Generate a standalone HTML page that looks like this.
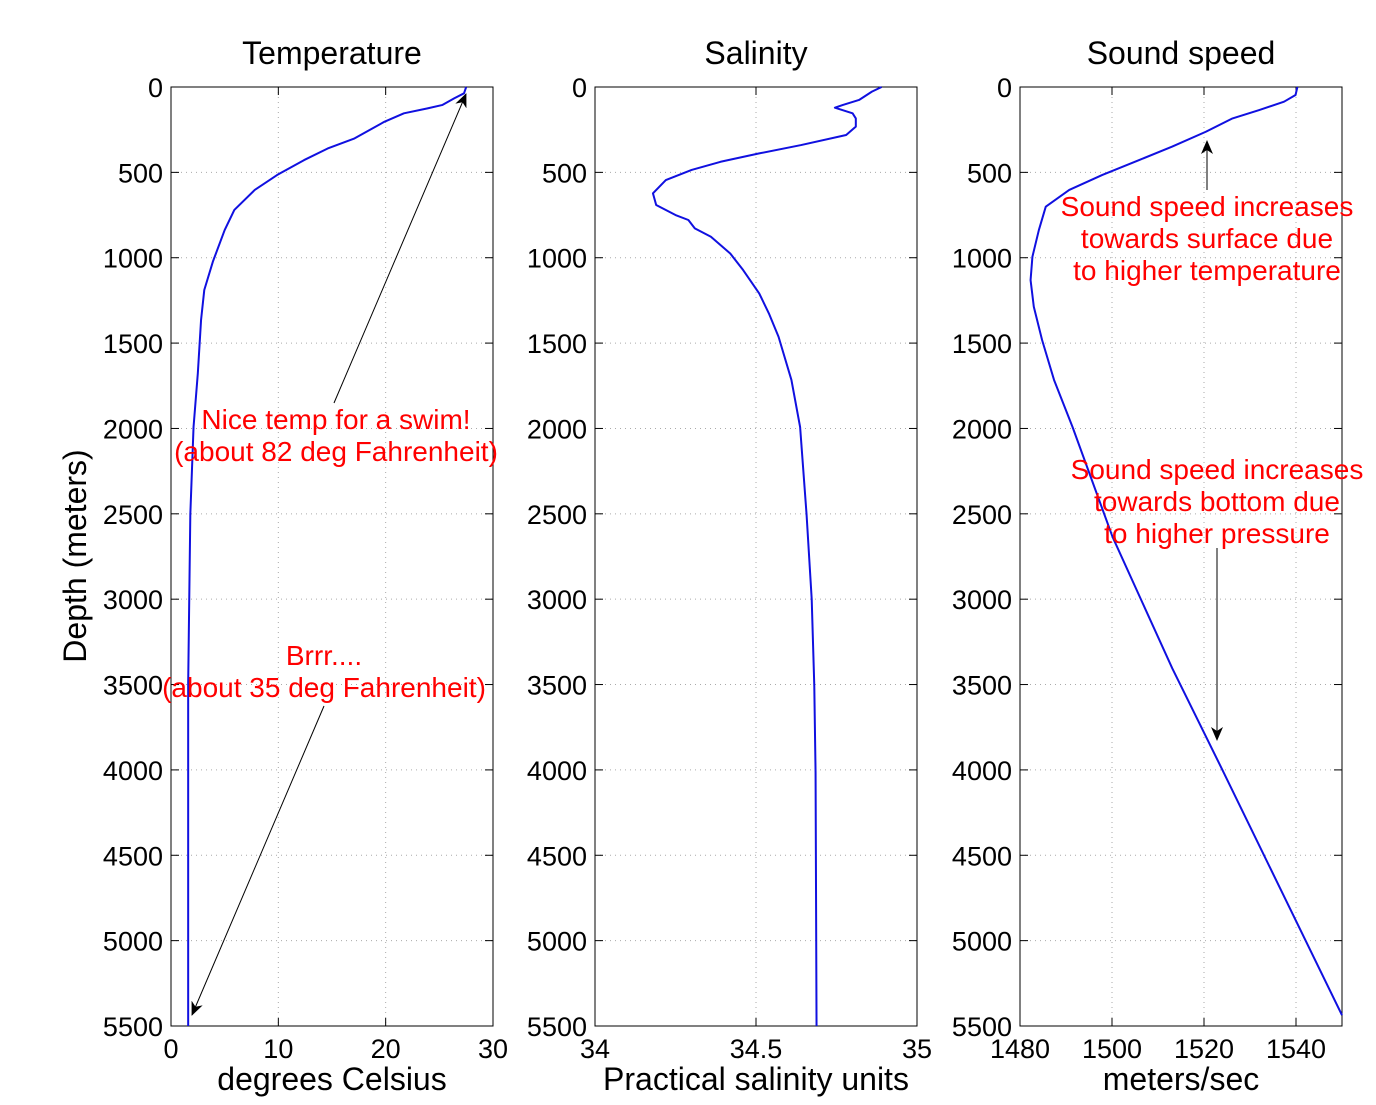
<!DOCTYPE html>
<html><head><meta charset="utf-8"><style>
body{margin:0;background:#fff;}
svg{font-family:"Liberation Sans",sans-serif;}
</style></head><body>
<svg id="chart" width="1376" height="1100">
<defs><marker id="ah" markerWidth="14" markerHeight="12" refX="13" refY="6" orient="auto" markerUnits="userSpaceOnUse"><path d="M0,0 L14,6 L0,12 L4,6 z" fill="#000"/></marker></defs>
<g id="root"></g>
<text x="86" y="556" font-size="32" text-anchor="middle" transform="rotate(-90 86 556)">Depth (meters)</text>
</svg>
<script>
const depthTicks=[0,500,1000,1500,2000,2500,3000,3500,4000,4500,5000,5500];
const tempDepth=[0,37,66,105,125,154,203,301,360,428,515,603,720,838,1023,1189,1365,1676,1992,2503,3495,4510,5500];
const tempVals=[27.5,27.3,26.4,25.3,23.9,21.7,19.9,17.1,14.6,12.4,9.9,7.8,5.9,5.0,3.9,3.1,2.8,2.5,2.1,1.8,1.6,1.6,1.6];
const salDepth=[0,27,76,105,121,154,184,232,281,340,389,438,486,545,623,691,750,779,828,877,975,1072,1209,1326,1463,1716,1992,2503,3000,3507,4015,5500];
const salVals=[34.89,34.86,34.82,34.77,34.745,34.80,34.81,34.81,34.78,34.64,34.51,34.39,34.30,34.22,34.18,34.19,34.25,34.29,34.31,34.36,34.42,34.46,34.51,34.54,34.57,34.61,34.637,34.657,34.673,34.681,34.685,34.688];
const sndDepth=[0,47,86,135,184,262,349,428,515,603,701,838,994,1131,1287,1482,1716,1990,2634,3405,4000,5437];
const sndVals=[1540.3,1539.9,1537.4,1532,1526.2,1520.4,1513.1,1505.9,1497.9,1490.7,1485.6,1484.1,1482.7,1482.3,1483.0,1484.8,1487.4,1491.4,1500.1,1513.1,1524,1550];
const tempTicks=[0,10,20,30], salTicks=[34,34.5,35], sndTicks=[1480,1500,1520,1540];
const NS="http://www.w3.org/2000/svg";
const root=document.getElementById('root');
const yTop=87,yBot=1026;
function yS(d){return yTop+(d/5500)*(yBot-yTop);}
function mk(tag,at,txt){const e=document.createElementNS(NS,tag);for(const k in at)e.setAttribute(k,at[k]);if(txt!==undefined)e.textContent=txt;root.appendChild(e);return e;}
function panel(x0,x1,xmin,xmax,xticks,title,xlabel,dep,vals,name){
 const xS=v=>x0+(v-xmin)/(xmax-xmin)*(x1-x0);
 xticks.forEach(t=>{const x=xS(t);
  let l=mk('line',{x1:x,x2:x,y1:yTop,y2:yBot,stroke:'#aaa','stroke-dasharray':'1,4','stroke-width':1});
  
  
  mk('line',{x1:x,x2:x,y1:yBot,y2:yBot-8,stroke:'#000'});mk('line',{x1:x,x2:x,y1:yTop,y2:yTop+8,stroke:'#000'});
  let tx=mk('text',{x:x,y:1058,'font-size':27,'text-anchor':'middle'},String(t));
  
  
 });
 depthTicks.forEach(d=>{const y=yS(d);
  let l=mk('line',{x1:x0,x2:x1,y1:y,y2:y,stroke:'#aaa','stroke-dasharray':'1,4','stroke-width':1});
  
  
  mk('line',{x1:x0,x2:x0+8,y1:y,y2:y,stroke:'#000'});mk('line',{x1:x1,x2:x1-8,y1:y,y2:y,stroke:'#000'});
  let tx=mk('text',{x:x0-8,y:y+10,'font-size':27,'text-anchor':'end'},String(d));
  
  
 });
 let b=mk('rect',{x:x0,y:yTop,width:x1-x0,height:yBot-yTop,fill:'none',stroke:'#000','stroke-width':1});
 
 
 let p=mk('polyline',{points:dep.map((d,i)=>xS(vals[i])+','+yS(d)).join(' '),fill:'none',stroke:'#1010e0','stroke-width':2,'stroke-linejoin':'round'});
 
 
 let t=mk('text',{x:(x0+x1)/2,y:64,'font-size':32,'text-anchor':'middle'},title);
 
 
 let xl=mk('text',{x:(x0+x1)/2,y:1090,'font-size':32,'text-anchor':'middle'},xlabel);
 
 
}
panel(171,493,0,30,tempTicks,'Temperature','degrees Celsius',tempDepth,tempVals,'temperature');
panel(595,917,34,35,salTicks,'Salinity','Practical salinity units',salDepth,salVals,'salinity');
panel(1020,1342,1480,1550,sndTicks,'Sound speed','meters/sec',sndDepth,sndVals,'sound-speed');
function note(lines,x,y,name){lines.forEach((s,i)=>{let t=mk('text',{x:x,y:y+i*32,'font-size':28,'text-anchor':'middle',fill:'#f00'},s);
 
 });}
function arrow(x1,y1,x2,y2,name){let a=mk('line',{x1,y1,x2,y2,stroke:'#000','stroke-width':1,'marker-end':'url(#ah)'});
 
 }
arrow(334,403,466,94,'swim-arrow');
note(['Nice temp for a swim!','(about 82 deg Fahrenheit)'],336,429,'swim-annotation');
note(['Brrr....','(about 35 deg Fahrenheit)'],324,665,'cold-annotation');
arrow(324,706,192,1015,'cold-arrow');
arrow(1207,190,1207,141,'surface-arrow');
note(['Sound speed increases','towards surface due','to higher temperature'],1207,216,'surface-annotation');
note(['Sound speed increases','towards bottom due','to higher pressure'],1217,479,'bottom-annotation');
arrow(1217,548,1217,740,'bottom-arrow');
</script>
</body></html>
